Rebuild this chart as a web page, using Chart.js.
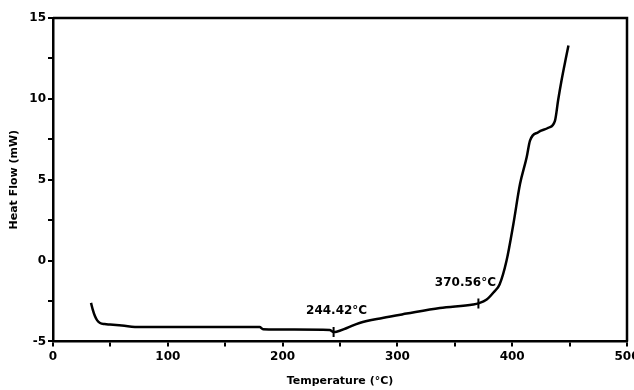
<!DOCTYPE html>
<html>
<head>
<meta charset="utf-8">
<script src="https://cdn.jsdelivr.net/npm/chart.js@4/dist/chart.umd.min.js"></script>
<style>
  html, body { margin: 0; padding: 0; background: #fff; }
  #wrap { width: 634px; height: 390px; }
</style>
</head>
<body>
<div id="wrap"><canvas id="dsc"></canvas></div>
<script>
// DSC trace: temperature (°C) vs heat flow (mW)
const temperature = [33.1, 34.5, 36.6, 38.5, 41, 45, 49.7, 60, 75.8, 100, 140, 180, 183, 210, 241, 244.42, 247, 256, 267, 287, 308, 337, 366, 370.56, 377.8, 384, 389, 395, 401, 406.8, 412.6, 415.5, 422.7, 431.5, 437.3, 440, 443, 447, 449];
const heatFlow    = [-2.62, -3.0, -3.45, -3.7, -3.86, -3.93, -3.96, -4.02, -4.11, -4.11, -4.11, -4.11, -4.25, -4.27, -4.3, -4.42, -4.40, -4.17, -3.86, -3.55, -3.28, -2.93, -2.72, -2.65, -2.41, -1.95, -1.48, -0.03, 2.25, 4.73, 6.39, 7.42, 7.94, 8.21, 8.66, 9.91, 11.15, 12.6, 13.3];

// labelled transition points
const transitionTemps  = [244.42, 370.56];
const transitionFlows  = [-4.42, -2.65];
const transitionLabels = ['244.42°C', '370.56°C'];

const xTicks = { min: 0, max: 500, step: 50, labelEvery: 100 };
const yTicks = { min: -5, max: 15, step: 2.5, labelEvery: 5 };

const FONT = 'DejaVu Sans';

const curve = temperature.map((t, i) => ({ x: t, y: heatFlow[i] }));
const marks = transitionTemps.map((t, i) => ({ x: t, y: transitionFlows[i], label: transitionLabels[i] }));
// horizontal nudge of each label relative to its marker, in px
const labelShift = [3, -13];

const transitionText = {
  id: 'transitionText',
  afterDatasetsDraw(chart) {
    const { ctx, scales } = chart;
    ctx.save();
    ctx.fillStyle = '#000';
    ctx.font = 'bold 12px "' + FONT + '"';
    ctx.textAlign = 'center';
    ctx.textBaseline = 'middle';
    marks.forEach((m, i) => {
      const px = scales.x.getPixelForValue(m.x);
      const py = scales.y.getPixelForValue(m.y);
      ctx.fillText(m.label, px + labelShift[i], py - 21);
    });
    ctx.restore();
  }
};

// closes the plot frame along the top and right edges
const frame = {
  id: 'frame',
  afterDraw(chart) {
    const { ctx, chartArea: a } = chart;
    ctx.save();
    ctx.strokeStyle = '#000';
    ctx.lineWidth = 2.5;
    ctx.beginPath();
    ctx.moveTo(a.left, a.top);
    ctx.lineTo(a.right, a.top);
    ctx.lineTo(a.right, a.bottom);
    ctx.stroke();
    ctx.restore();
  }
};

new Chart(document.getElementById('dsc'), {
  type: 'scatter',
  data: {
    datasets: [
      {
        data: curve,
        showLine: true,
        borderColor: '#000',
        borderWidth: 2.5,
        pointRadius: 0,
        cubicInterpolationMode: 'monotone',
        fill: false
      },
      {
        data: marks,
        showLine: false,
        pointStyle: 'line',
        rotation: 90,
        pointRadius: 5,
        borderColor: '#000',
        borderWidth: 2,
        backgroundColor: '#000'
      }
    ]
  },
  plugins: [transitionText, frame],
  options: {
    responsive: true,
    maintainAspectRatio: false,
    animation: false,
    events: [],
    layout: { padding: { top: 18, right: 7, left: 0, bottom: 2 } },
    plugins: { legend: { display: false }, tooltip: { enabled: false } },
    scales: {
      x: {
        type: 'linear',
        min: xTicks.min,
        max: xTicks.max,
        afterFit(scale) { scale.paddingRight = 0; },
        ticks: {
          stepSize: xTicks.step,
          color: '#000',
          padding: 3,
          font: { family: FONT, weight: 'bold', size: 12 },
          maxRotation: 0,
          autoSkip: false,
          callback: v => (v % xTicks.labelEvery === 0 ? String(v) : '')
        },
        grid: { drawOnChartArea: false, color: '#000', lineWidth: 2, tickLength: 5 },
        border: { color: '#000', width: 2.5 },
        title: {
          display: true,
          text: 'Temperature (°C)',
          color: '#000',
          font: { family: FONT, weight: 'bold', size: 11 },
          padding: { top: 8, bottom: 0 }
        }
      },
      y: {
        type: 'linear',
        min: yTicks.min,
        max: yTicks.max,
        afterFit(scale) { scale.width = 53; },
        ticks: {
          stepSize: yTicks.step,
          color: '#000',
          padding: 2,
          font: { family: FONT, weight: 'bold', size: 12 },
          autoSkip: false,
          callback: v => (v % yTicks.labelEvery === 0 ? String(v) : '')
        },
        grid: { drawOnChartArea: false, color: '#000', lineWidth: 2, tickLength: 5 },
        border: { color: '#000', width: 2.5 },
        title: {
          display: true,
          text: 'Heat Flow (mW)',
          color: '#000',
          font: { family: FONT, weight: 'bold', size: 11 },
          padding: { top: 8, bottom: 0 }
        }
      }
    }
  }
});
</script>
</body>
</html>
